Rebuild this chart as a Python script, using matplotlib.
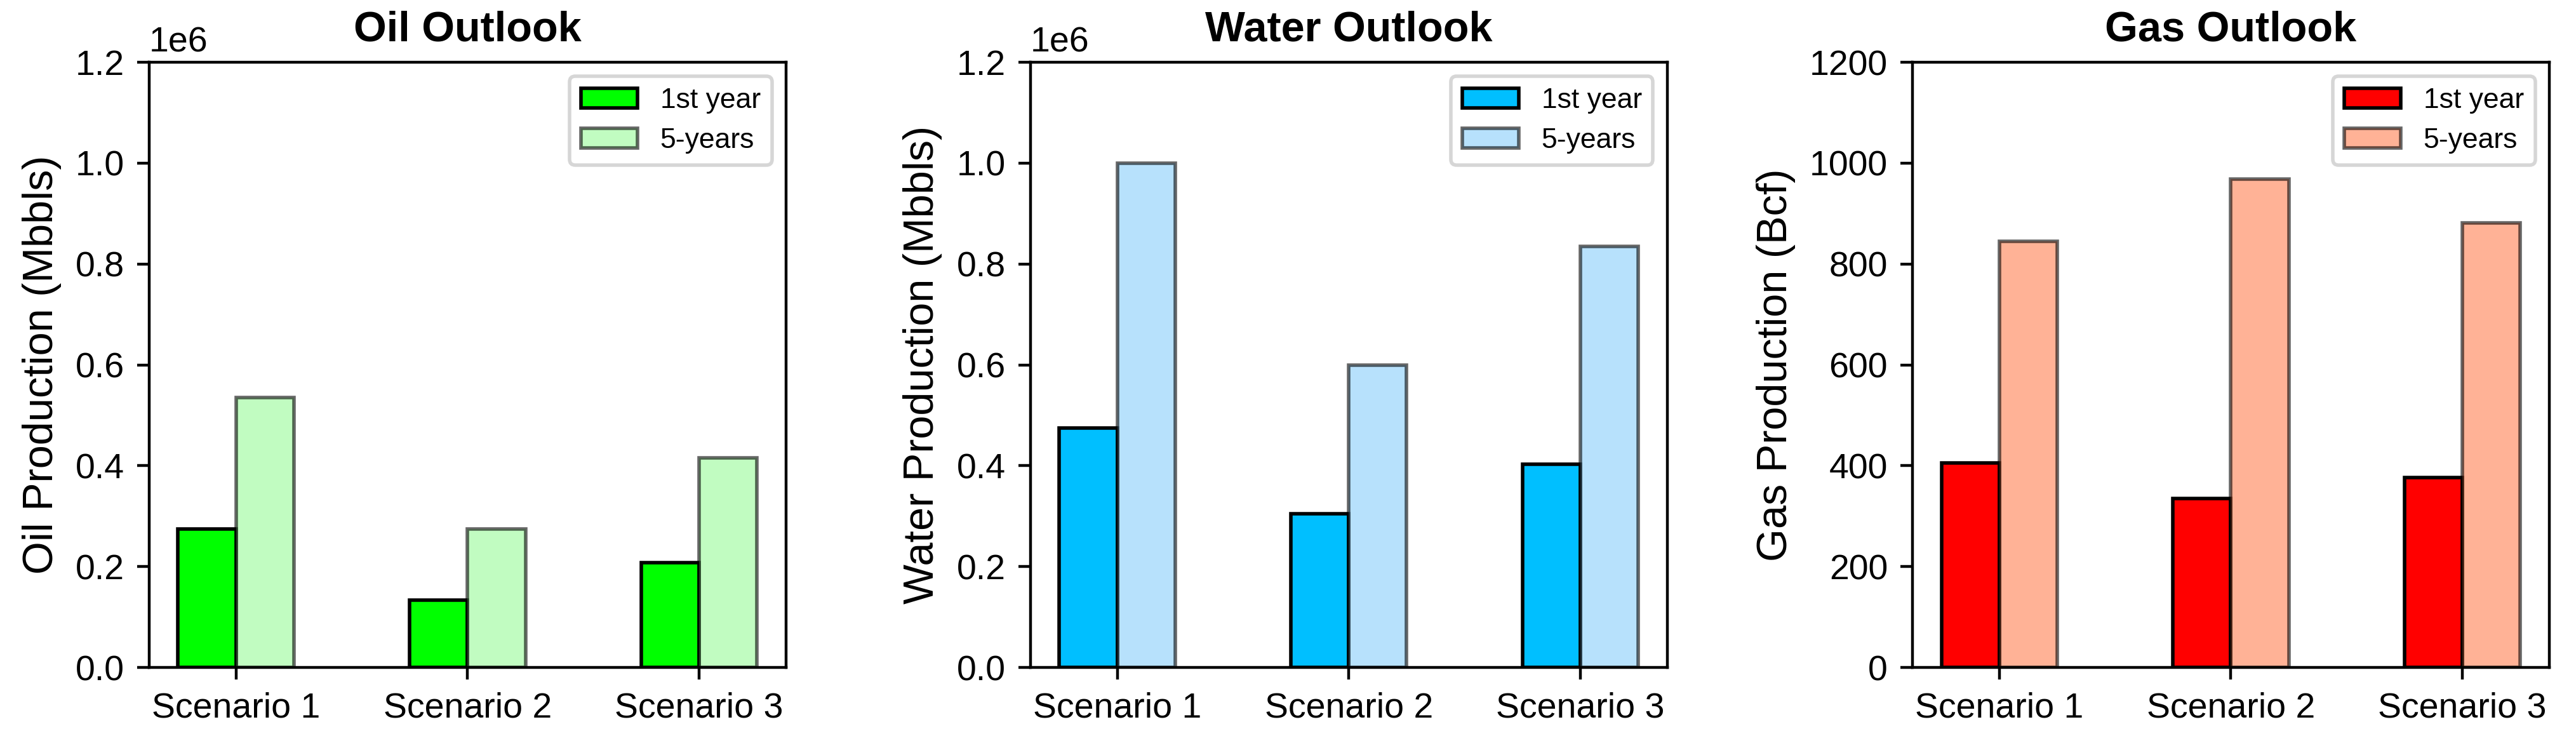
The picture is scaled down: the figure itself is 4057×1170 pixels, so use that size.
import numpy as np
import matplotlib.pyplot as plt

plt.rcParams['font.family'] = ['Liberation Sans', 'DejaVu Sans']

# Data
scenarios = ["Scenario 1", "Scenario 2", "Scenario 3"]
oil_1st = [275000, 133000, 208000]
oil_5yr = [535000, 275000, 415000]
water_1st = [475000, 305000, 403000]
water_5yr = [1000000, 600000, 835000]
gas_1st = [405, 335, 377]
gas_5yr = [845, 968, 882]

x = np.arange(len(scenarios))
width = 0.25

fig = plt.figure(figsize=(4057 / 400, 1170 / 400), dpi=400)

panels = [
    (0.0579, "Oil Outlook", "Oil Production (Mbbls)", oil_1st, oil_5yr, "lime", "palegreen", 1.2e6),
    (0.4000, "Water Outlook", "Water Production (Mbbls)", water_1st, water_5yr, "deepskyblue", "lightskyblue", 1.2e6),
    (0.7424, "Gas Outlook", "Gas Production (Bcf)", gas_1st, gas_5yr, "red", "coral", 1200),
]

for left, title, ylabel, first, five, c1, c2, ymax in panels:
    ax = fig.add_axes([left, 0.1017, 0.2472, 0.8145])
    ax.bar(x - width / 2, first, width, color=c1, edgecolor="black", label="1st year")
    ax.bar(x + width / 2, five, width, color=c2, edgecolor="black", alpha=0.6, label="5-years")
    ax.set_xticks(x)
    ax.set_xticklabels(scenarios, fontsize=10)
    ax.set_ylim(0, ymax)
    ax.set_ylabel(ylabel, fontsize=12)
    ax.set_title(title, fontsize=12, fontweight="bold")
    ax.legend(loc="upper right", fontsize=8)

fig.savefig("out.png", dpi=400)
